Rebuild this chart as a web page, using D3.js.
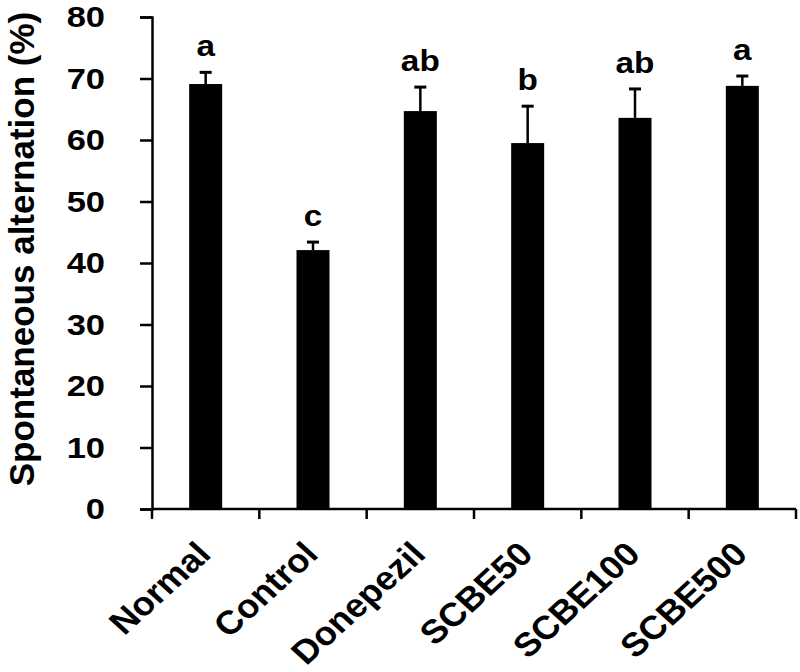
<!DOCTYPE html>
<html>
<head>
<meta charset="utf-8">
<script src="https://cdn.jsdelivr.net/npm/d3@7"></script>
<style>
	body { margin: 0; background: #fff; }
	svg text { font-family: "Liberation Sans", Arial, sans-serif; font-weight: bold; fill: #000; }
</style>
</head>
<body>
<svg id="chart" width="800" height="672"></svg>
<script>
"use strict";

// values
var groups  = ["Normal", "Control", "Donepezil", "SCBE50", "SCBE100", "SCBE500"];
var means   = [69.1, 42.1, 64.7, 59.5, 63.6, 68.8];
var errors  = [1.9, 1.3, 3.9, 6.0, 4.7, 1.6];
var letters = ["a", "c", "ab", "b", "ab", "a"];
var yticks  = [0, 10, 20, 30, 40, 50, 60, 70, 80];

var plotLeft = 152, plotRight = 796, plotTop = 17, plotBottom = 509;
// the source picture is a little wider than tall, so its text looks stretched
var stretch = 1.15;

var svg = d3.select("#chart");

var xscale = d3.scaleBand()
	.domain(groups)
	.range([plotLeft, plotRight])
	.paddingInner(0)
	.paddingOuter(0);

var yscale = d3.scaleLinear()
	.domain([0, 80])
	.range([plotBottom, plotTop]);

var barw = 33;

// bars
svg.append("g").selectAll("rect")
	.data(groups)
	.enter()
	.append("rect")
	.attr("x", (d, i)=>xscale(d) + xscale.bandwidth() / 2 - barw / 2)
	.attr("width", barw)
	.attr("y", (d, i)=>yscale(means[i]))
	.attr("height", (d, i)=>plotBottom - yscale(means[i]))
	.attr("fill", "#000");

// error bars (upper only)
var eb = svg.append("g").attr("stroke", "#000");
groups.forEach((g, i)=>{
	let cx = xscale(g) + xscale.bandwidth() / 2;
	eb.append("line")
		.attr("x1", cx).attr("x2", cx)
		.attr("y1", yscale(means[i]))
		.attr("y2", yscale(means[i] + errors[i]))
		.attr("stroke-width", 2.5);
	eb.append("line")
		.attr("x1", cx - 6).attr("x2", cx + 6)
		.attr("y1", yscale(means[i] + errors[i]))
		.attr("y2", yscale(means[i] + errors[i]))
		.attr("stroke-width", 3);
});

// significance letters
svg.append("g").selectAll("text")
	.data(groups)
	.enter()
	.append("text")
	.attr("transform", (d, i)=>`translate(${xscale(d) + xscale.bandwidth() / 2},${yscale(means[i] + errors[i]) - 16}) scale(${stretch},1)`)
	.attr("text-anchor", "middle")
	.style("font-size", "29px")
	.text((d, i)=>letters[i]);

// y axis
var yaxis = d3.axisLeft(yscale)
	.tickValues(yticks)
	.tickSizeInner(12)
	.tickSizeOuter(12)
	.tickPadding(35);
var yg = svg.append("g")
	.attr("transform", `translate(${plotLeft},0)`)
	.call(yaxis);
yg.attr("font-family", null).attr("font-size", null);
yg.select(".domain").attr("stroke-width", 2.5);
yg.selectAll(".tick line").attr("stroke-width", 2.5);
yg.selectAll(".tick text")
	.attr("x", null)
	.attr("transform", `translate(-47,0) scale(${stretch},1)`)
	.style("font-size", "30px");

// x axis
var xedges = groups.map(g=>xscale(g)).concat([plotRight]);
var xg = svg.append("g");
xg.append("line")
	.attr("x1", plotLeft).attr("x2", plotRight)
	.attr("y1", plotBottom).attr("y2", plotBottom)
	.attr("stroke", "#000")
	.attr("stroke-width", 2.5);
xg.selectAll(".xtick")
	.data(xedges)
	.enter()
	.append("line")
	.attr("x1", d=>d).attr("x2", d=>d)
	.attr("y1", plotBottom).attr("y2", plotBottom + 10)
	.attr("stroke", "#000")
	.attr("stroke-width", 2.5);

xg.selectAll(".xlabel")
	.data(groups)
	.enter()
	.append("text")
	.attr("text-anchor", "end")
	.attr("transform", d=>`translate(${xscale(d) + xscale.bandwidth() / 2 + 7},${plotBottom + 47}) scale(1.1,1) rotate(-45)`)
	.style("font-size", "33px")
	.text(d=>d);

// y title
svg.append("text")
	.attr("transform", "translate(34,249) rotate(-90)")
	.attr("text-anchor", "middle")
	.style("font-size", "35px")
	.text("Spontaneous alternation (%)");
</script>
</body>
</html>
